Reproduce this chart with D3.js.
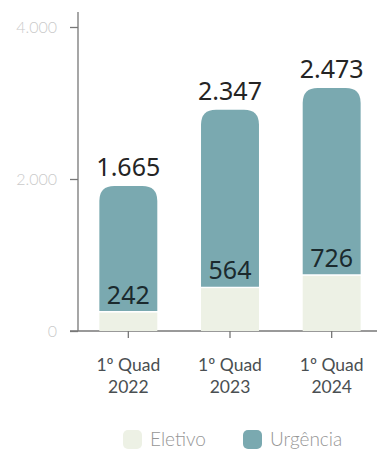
<!DOCTYPE html>
<html>
<head>
<meta charset="utf-8">
<script src="https://cdn.jsdelivr.net/npm/d3@7"></script>
<style>
  body { margin: 0; background: #fff; }
  #chart { width: 377px; height: 451px; }
</style>
</head>
<body>
<div id="chart"></div>
<script>
(function () {
  var categories = [['1º Quad', '2022'], ['1º Quad', '2023'], ['1º Quad', '2024']];
  var eletivo = [242, 564, 726];
  var urgencia = [1665, 2347, 2473];
  var yTicks = [0, 2000, 4000];
  var seriesNames = ['Eletivo', 'Urgência'];
  var colors = ['#edf1e5', '#7aa9b0'];

  var width = 377;
  var height = 451;
  var margin = { top: 12, right: 0, bottom: 120, left: 78 };

  var svg = d3.select('#chart').append('svg')
    .attr('width', width)
    .attr('height', height);

  var fmt = function (v) { return d3.format(',')(v).replace(/,/g, '.'); };

  var x = d3.scaleBand()
    .domain(d3.range(categories.length))
    .range([margin.left, 382])
    .paddingInner(0.43)
    .paddingOuter(0.21);

  var y = d3.scaleLinear().domain([0, 4000]).range([331, 27]);

  // y axis
  var yAxis = svg.append('g')
    .attr('transform', 'translate(' + margin.left + ',0)')
    .call(d3.axisLeft(y).tickValues(yTicks).tickSize(8).tickSizeOuter(0).tickFormat(fmt));
  yAxis.select('.domain').attr('d', 'M0,' + margin.top + 'V331');
  yAxis.selectAll('line, .domain').attr('stroke', '#777').attr('stroke-width', 1.3);
  yAxis.selectAll('text')
    .attr('fill', '#cacaca')
    .attr('font-family', 'Lato, sans-serif')
    .attr('font-weight', 300)
    .attr('font-size', 16)
    .attr('x', -21);

  // x axis
  var xAxis = svg.append('g')
    .attr('transform', 'translate(0,331)')
    .call(d3.axisBottom(x).tickSize(7).tickSizeOuter(0).tickFormat(''));
  xAxis.select('.domain').attr('d', 'M70,0H377');
  xAxis.selectAll('line, .domain').attr('stroke', '#777').attr('stroke-width', 1.3);
  xAxis.selectAll('.tick').each(function (d) {
    var t = d3.select(this).append('text')
      .attr('fill', '#4a4f52')
      .attr('font-family', 'Lato, sans-serif')
      .attr('font-size', 17.5)
      .attr('text-anchor', 'middle');
    t.append('tspan').attr('x', 0).attr('y', 40).text(categories[d][0]);
    t.append('tspan').attr('x', 0).attr('y', 62).text(categories[d][1]);
  });

  var data = categories.map(function (c, i) {
    return { i: i, e: eletivo[i], u: urgencia[i] };
  });

  var bw = x.bandwidth();
  var r = 15;

  // eletivo segments
  svg.selectAll('.seg-e').data(data).enter().append('rect')
    .attr('class', 'seg-e')
    .attr('x', function (d) { return x(d.i); })
    .attr('y', function (d) { return y(d.e); })
    .attr('width', bw)
    .attr('height', function (d) { return y(0) - y(d.e); })
    .attr('fill', colors[0]);

  // urgencia segments with rounded top
  svg.selectAll('.seg-u').data(data).enter().append('path')
    .attr('class', 'seg-u')
    .attr('fill', colors[1])
    .attr('d', function (d) {
      var x0 = x(d.i), x1 = x0 + bw;
      var yt = y(d.e + d.u), yb = y(d.e) - 1.5;
      return 'M' + x0 + ',' + yb +
        'V' + (yt + r) +
        'Q' + x0 + ',' + yt + ' ' + (x0 + r) + ',' + yt +
        'H' + (x1 - r) +
        'Q' + x1 + ',' + yt + ' ' + x1 + ',' + (yt + r) +
        'V' + yb + 'Z';
    });

  // labels
  svg.selectAll('.lab-e').data(data).enter().append('text')
    .attr('x', function (d) { return x(d.i) + bw / 2; })
    .attr('y', function (d) { return y(d.e) - 9; })
    .attr('text-anchor', 'middle')
    .attr('font-family', 'Noto Sans, sans-serif')
    .attr('font-size', 25)
    .attr('fill', '#1b2a2e')
    .text(function (d) { return fmt(d.e); });

  svg.selectAll('.lab-t').data(data).enter().append('text')
    .attr('x', function (d) { return x(d.i) + bw / 2; })
    .attr('y', function (d) { return y(d.e + d.u) - 10; })
    .attr('text-anchor', 'middle')
    .attr('font-family', 'Noto Sans, sans-serif')
    .attr('font-size', 25)
    .attr('fill', '#242424')
    .text(function (d) { return fmt(d.u); });

  // legend
  var legend = svg.append('g').attr('transform', 'translate(0,440)');
  var lx = [123, 243];
  seriesNames.forEach(function (name, i) {
    legend.append('rect')
      .attr('x', lx[i]).attr('y', -10)
      .attr('width', 19).attr('height', 19)
      .attr('rx', 5)
      .attr('fill', colors[i]);
    legend.append('text')
      .attr('x', lx[i] + 27).attr('y', 6)
      .attr('font-family', 'Lato, sans-serif')
      .attr('font-weight', 300)
      .attr('font-size', 19)
      .attr('fill', '#969696')
      .text(name);
  });
})();
</script>
</body>
</html>
